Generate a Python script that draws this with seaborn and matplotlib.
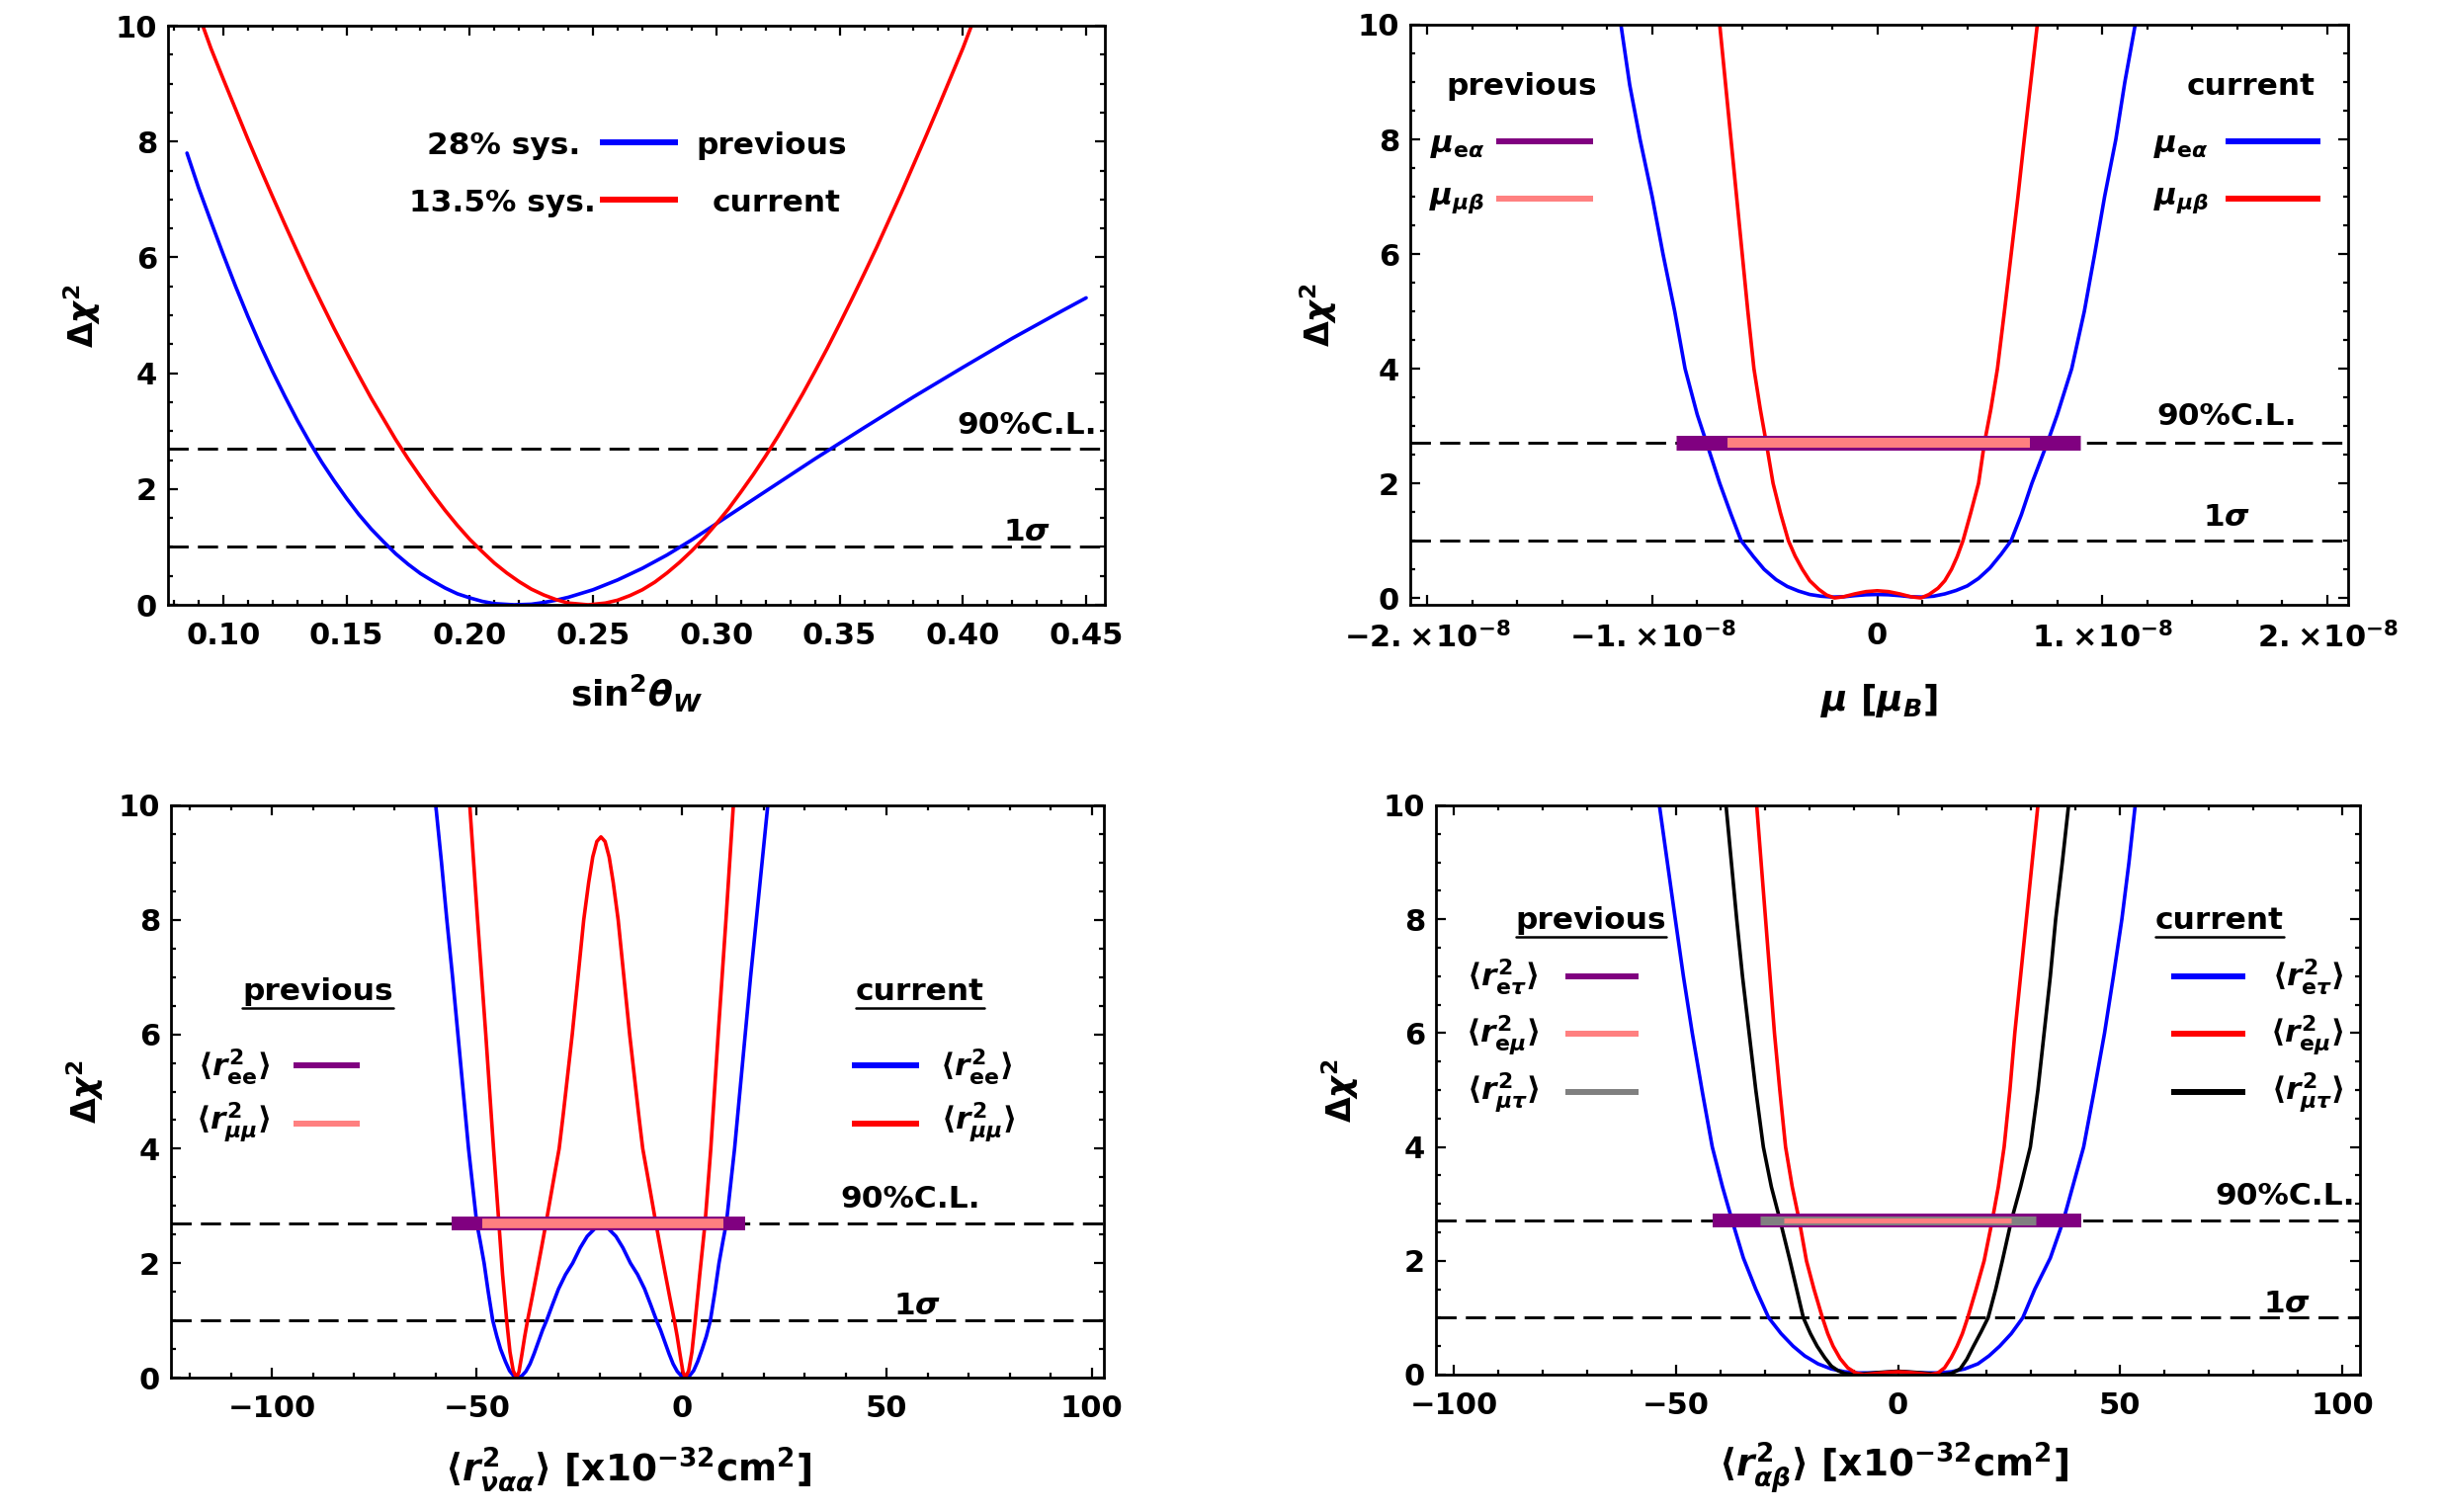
import numpy as np
import pandas as pd
import matplotlib
matplotlib.use("Agg")
import matplotlib.pyplot as plt
import seaborn as sns
from matplotlib.ticker import MultipleLocator

# ---------------- data ----------------
# Panel 1: sin^2 theta_W
sw_prev_x = [0.0853, 0.090, 0.095, 0.100, 0.105, 0.110, 0.115, 0.120, 0.125, 0.130, 0.135, 0.140,
             0.145, 0.150, 0.155, 0.160, 0.165, 0.170, 0.175, 0.180, 0.185, 0.190, 0.195, 0.200,
             0.205, 0.210, 0.218, 0.225, 0.230, 0.235, 0.240, 0.250, 0.260, 0.270, 0.280, 0.290,
             0.300, 0.310, 0.320, 0.330, 0.340, 0.350, 0.360, 0.380, 0.400, 0.420, 0.440, 0.450]
sw_prev_y = [7.80, 7.20, 6.62, 6.05, 5.50, 4.98, 4.49, 4.03, 3.60, 3.19, 2.81, 2.46,
             2.14, 1.84, 1.56, 1.31, 1.09, 0.88, 0.70, 0.54, 0.41, 0.29, 0.19, 0.12,
             0.06, 0.02, 0.0, 0.01, 0.04, 0.08, 0.13, 0.26, 0.43, 0.63, 0.86, 1.12,
             1.40, 1.68, 1.96, 2.24, 2.52, 2.79, 3.06, 3.59, 4.10, 4.60, 5.07, 5.30]
sw_curr_x = [0.0917, 0.095, 0.100, 0.105, 0.110, 0.115, 0.120, 0.125, 0.130, 0.135, 0.140, 0.145,
             0.150, 0.155, 0.160, 0.165, 0.170, 0.175, 0.180, 0.185, 0.190, 0.195, 0.200, 0.205,
             0.210, 0.215, 0.220, 0.225, 0.230, 0.235, 0.240, 0.248, 0.255, 0.260, 0.265, 0.270,
             0.275, 0.280, 0.285, 0.290, 0.295, 0.300, 0.305, 0.310, 0.315, 0.320, 0.325, 0.330,
             0.335, 0.340, 0.345, 0.350, 0.355, 0.360, 0.365, 0.370, 0.375, 0.380, 0.385, 0.390,
             0.395, 0.400, 0.4035]
sw_curr_y = [10.0, 9.61, 9.08, 8.56, 8.04, 7.54, 7.05, 6.57, 6.10, 5.64, 5.20, 4.77,
             4.36, 3.96, 3.57, 3.21, 2.85, 2.52, 2.21, 1.91, 1.63, 1.37, 1.13, 0.92,
             0.72, 0.55, 0.40, 0.27, 0.17, 0.09, 0.03, 0.0, 0.03, 0.08, 0.16, 0.26,
             0.39, 0.55, 0.73, 0.93, 1.15, 1.40, 1.66, 1.95, 2.25, 2.57, 2.91, 3.27,
             3.64, 4.03, 4.43, 4.85, 5.28, 5.72, 6.17, 6.64, 7.11, 7.60, 8.09, 8.59,
             9.10, 9.61, 10.0]

# Panel 2: magnetic moment [mu_B]
mu_ea_x = [-1.139e-8, -1.10e-8, -1.054e-8, -1.00e-8, -0.952e-8, -0.90e-8, -0.854e-8, -0.80e-8,
           -0.758e-8, -0.70e-8, -0.65e-8, -0.605e-8, -0.55e-8, -0.503e-8, -0.45e-8, -0.40e-8,
           -0.35e-8, -0.30e-8, -0.25e-8, -0.20e-8, -0.15e-8, -0.10e-8, -0.05e-8, 0.0,
           0.05e-8, 0.10e-8, 0.15e-8, 0.20e-8, 0.25e-8, 0.30e-8, 0.35e-8, 0.40e-8, 0.45e-8,
           0.50e-8, 0.55e-8, 0.595e-8, 0.64e-8, 0.687e-8, 0.755e-8, 0.80e-8, 0.864e-8, 0.92e-8,
           0.966e-8, 1.01e-8, 1.06e-8, 1.10e-8, 1.146e-8]
mu_ea_y = [10.0, 8.95, 8.0, 7.0, 6.0, 5.0, 4.0, 3.2,
           2.7, 2.0, 1.46, 1.0, 0.72, 0.5, 0.32, 0.2,
           0.12, 0.06, 0.03, 0.015, 0.02, 0.04, 0.055, 0.06,
           0.055, 0.04, 0.02, 0.015, 0.03, 0.07, 0.13, 0.21, 0.34,
           0.52, 0.76, 1.0, 1.45, 2.0, 2.7, 3.2, 4.0, 5.0,
           6.0, 7.0, 8.0, 9.0, 10.0]
mu_mb_x = [-0.70e-8, -0.675e-8, -0.65e-8, -0.625e-8, -0.60e-8, -0.575e-8, -0.548e-8, -0.52e-8,
           -0.493e-8, -0.463e-8, -0.43e-8, -0.395e-8, -0.365e-8, -0.333e-8, -0.30e-8, -0.26e-8,
           -0.225e-8, -0.19e-8, -0.15e-8, -0.10e-8, -0.05e-8, 0.0, 0.05e-8, 0.10e-8, 0.15e-8,
           0.194e-8, 0.23e-8, 0.27e-8, 0.30e-8, 0.33e-8, 0.355e-8, 0.381e-8, 0.415e-8, 0.45e-8,
           0.476e-8, 0.505e-8, 0.534e-8, 0.565e-8, 0.595e-8, 0.625e-8, 0.653e-8, 0.682e-8, 0.711e-8]
mu_mb_y = [10.0, 9.0, 8.0, 7.0, 6.0, 5.0, 4.0, 3.3,
           2.7, 2.0, 1.48, 1.0, 0.73, 0.5, 0.3, 0.15,
           0.05, 0.0, 0.02, 0.07, 0.11, 0.125, 0.11, 0.07, 0.02,
           0.0, 0.06, 0.17, 0.3, 0.5, 0.72, 1.0, 1.48, 2.0,
           2.7, 3.3, 4.0, 5.0, 6.0, 7.0, 8.0, 9.0, 10.0]
prev_mu_ea = [-0.895e-8, 0.901e-8]
prev_mu_mb = [-0.667e-8, 0.677e-8]

# Panel 3: diagonal charge radii [1e-32 cm^2]
ree_x = [-60.0, -58.6, -57.3, -55.9, -54.6, -53.3, -52.0, -51.0, -50.0, -49.2, -48.2, -47.2, -46.1,
         -45.1, -44.2, -43.0, -42.0, -41.0, -40.0, -39.0, -38.0, -37.0, -36.0, -34.95, -33.95,
         -32.95, -31.55, -30.05, -28.35, -26.6, -24.75, -23.05, -21.25, -19.55, -17.85, -16.05,
         -14.35, -12.5, -10.75, -9.05, -7.55, -6.15, -5.15, -4.15, -3.1, -2.1, -1.1, -0.1, 0.9,
         1.9, 2.9, 3.9, 5.0, 6.0, 7.0, 8.1, 9.1, 10.1, 10.9, 11.9, 12.9, 14.2, 15.5, 16.8, 18.2,
         19.6, 21.0]
ree_y = [10.0, 9.0, 8.0, 7.0, 6.0, 5.0, 4.0, 3.35, 2.7, 2.4, 2.0, 1.5, 1.0,
         0.72, 0.5, 0.28, 0.12, 0.03, 0.0, 0.03, 0.11, 0.24, 0.42, 0.63, 0.83,
         1.0, 1.27, 1.55, 1.8, 2.0, 2.27, 2.47, 2.6, 2.65, 2.6, 2.47,
         2.27, 2.0, 1.8, 1.55, 1.27, 1.0, 0.83, 0.63, 0.42, 0.24, 0.11, 0.03, 0.0,
         0.03, 0.12, 0.28, 0.5, 0.72, 1.0, 1.5, 2.0, 2.4, 2.7, 3.35, 4.0, 5.0, 6.0, 7.0, 8.0,
         9.0, 10.0]
rmm_x = [-51.7, -49.8, -47.8, -45.9, -44.6, -43.7, -42.7, -41.9, -41.1, -40.3, -39.7, -39.0, -38.3,
         -37.6, -36.5, -35.3, -34.2, -33.1, -32.0, -30.9, -29.9, -28.9, -27.8, -26.7, -25.3,
         -23.9, -22.7, -21.7, -20.7, -19.7, -18.7, -17.7, -16.7, -15.5, -14.1, -12.7, -11.6,
         -10.5, -9.5, -8.5, -7.4, -6.3, -5.2, -4.1, -2.9, -1.8, -1.1, -0.4, 0.3, 0.9,
         1.7, 2.5, 3.3, 4.4, 5.7, 7.1, 8.9, 10.8, 12.6]
rmm_y = [10.0, 8.0, 6.0, 4.0, 2.7, 1.8, 1.0, 0.45, 0.12, 0.0, 0.1, 0.4, 0.72,
         1.0, 1.4, 1.85, 2.27, 2.7, 3.15, 3.6, 4.0, 4.6, 5.3, 6.0, 7.0,
         8.0, 8.65, 9.1, 9.37, 9.45, 9.37, 9.1, 8.65, 8.0, 7.0, 6.0, 5.3,
         4.6, 4.0, 3.6, 3.15, 2.7, 2.27, 1.85, 1.4, 1.0, 0.72, 0.4, 0.1, 0.0,
         0.12, 0.45, 1.0, 1.8, 2.7, 4.0, 6.0, 8.0, 10.0]
prev_ree = [-56.1, 15.4]
prev_rmm = [-48.7, 10.2]

# Panel 4: transition charge radii [1e-32 cm^2]
ret_x = [-53.7, -52.0, -50.3, -48.3, -46.3, -44.0, -41.8, -39.5, -37.3, -34.8, -32.0, -29.1, -26.3,
         -23.6, -21.0, -18.0, -15.0, -12.0, -9.0, -6.0, -3.0, 0.0, 3.0, 6.0, 9.0, 12.0, 15.0,
         18.0, 20.5, 22.9, 25.5, 28.1, 30.8, 34.3, 37.2, 39.5, 41.8, 44.2, 46.5, 48.5, 50.4,
         52.0, 53.4]
ret_y = [10.0, 9.05, 8.1, 7.0, 6.0, 4.95, 4.0, 3.3, 2.7, 2.05, 1.5, 1.0, 0.72,
         0.5, 0.33, 0.19, 0.1, 0.05, 0.03, 0.03, 0.04, 0.05, 0.04, 0.03, 0.03, 0.05, 0.1,
         0.19, 0.33, 0.5, 0.72, 1.0, 1.5, 2.05, 2.7, 3.35, 4.0, 5.0, 6.0, 7.0, 8.0,
         9.0, 10.0]
rmt_x = [-38.7, -37.5, -36.3, -35.0, -33.5, -32.0, -30.3, -28.5, -26.5, -24.3, -22.8, -21.3, -19.7,
         -18.2, -16.5, -15.0, -13.5, -12.0, -9.8, -7.0, -4.0, 0.0, 4.0, 7.0, 10.0, 12.0, 14.0,
         15.5, 17.0, 18.7, 20.3, 22.0, 23.5, 25.5, 27.6, 29.8, 31.5, 32.9, 34.3, 35.5, 37.0, 38.4]
rmt_y = [10.0, 9.0, 8.0, 7.0, 6.0, 5.0, 4.0, 3.3, 2.7, 2.0, 1.5, 1.0, 0.72,
         0.5, 0.3, 0.15, 0.07, 0.02, 0.0, 0.02, 0.04, 0.06, 0.04, 0.02, 0.0, 0.02, 0.1,
         0.27, 0.5, 0.75, 1.0, 1.5, 2.0, 2.7, 3.3, 4.0, 5.0, 6.0, 7.0, 8.0, 9.0, 10.0]
rem_x = [-31.8, -30.8, -29.8, -28.8, -27.8, -26.6, -25.3, -23.8, -22.2, -20.6, -18.9, -17.0, -15.8,
         -14.6, -13.0, -11.3, -9.5, -7.7, -5.0, -2.5, 0.0, 2.5, 5.0, 7.4, 9.0, 10.5, 12.0, 13.3,
         14.5, 15.7, 17.6, 19.4, 21.2, 22.6, 23.9, 25.2, 26.3, 27.6, 28.9, 30.2, 31.5]
rem_y = [10.0, 9.0, 8.0, 7.0, 6.0, 5.0, 4.0, 3.3, 2.7, 2.0, 1.5, 1.0, 0.72,
         0.5, 0.28, 0.12, 0.03, 0.0, 0.02, 0.04, 0.05, 0.04, 0.02, 0.0, 0.03, 0.12, 0.3, 0.5,
         0.72, 1.0, 1.5, 2.0, 2.7, 3.3, 4.0, 5.0, 6.0, 7.0, 8.0, 9.0, 10.0]
prev_ret = [-41.7, 41.3]
prev_rmt = [-31.0, 31.0]
prev_rem = [-25.8, 25.5]

# reference levels and ticks
cl90 = 2.7
one_sigma = 1.0
y_ticks = [0, 2, 4, 6, 8, 10]
y_ticklabels = ["0", "2", "4", "6", "8", "10"]
sw_ticks = [0.10, 0.15, 0.20, 0.25, 0.30, 0.35, 0.40, 0.45]
sw_ticklabels = ["0.10", "0.15", "0.20", "0.25", "0.30", "0.35", "0.40", "0.45"]
mu_ticks = [-2e-8, -1e-8, 0.0, 1e-8, 2e-8]
mu_ticklabels = [r"$-2.\!\times\!10^{-8}$", r"$-1.\!\times\!10^{-8}$", "0",
                 r"$1.\!\times\!10^{-8}$", r"$2.\!\times\!10^{-8}$"]
r_ticks = [-100, -50, 0, 50, 100]
r_ticklabels = ["\u2212100", "\u221250", "0", "50", "100"]

# ---------------- style ----------------
sns.set_theme(style="white")
plt.rcParams["font.family"] = ["DejaVu Sans"]
plt.rcParams["font.weight"] = "bold"
plt.rcParams["axes.labelweight"] = "bold"
plt.rcParams["text.color"] = "black"
plt.rcParams["axes.labelcolor"] = "black"
plt.rcParams["xtick.color"] = "black"
plt.rcParams["ytick.color"] = "black"
plt.rcParams["xtick.labelcolor"] = "black"
plt.rcParams["ytick.labelcolor"] = "black"
plt.rcParams["mathtext.fontset"] = "custom"
plt.rcParams["mathtext.rm"] = "DejaVu Sans:bold"
plt.rcParams["mathtext.bf"] = "DejaVu Sans:bold"
plt.rcParams["mathtext.sf"] = "DejaVu Sans:bold"
plt.rcParams["mathtext.it"] = "DejaVu Sans:italic:bold"
plt.rcParams["axes.unicode_minus"] = True

BLUE = "#0000FF"
RED = "#FF0000"
PURPLE = "#800080"
PINK = "#FF8080"
GRAY = "#808080"
BLACK = "#000000"

W, H = 2471, 1530
fig = plt.figure(figsize=(W / 100, H / 100), dpi=100)
ax1 = fig.add_axes([170 / W, 1 - 612 / H, 948 / W, 586 / H])
ax2 = fig.add_axes([1427 / W, 1 - 612 / H, 949 / W, 587 / H])
ax3 = fig.add_axes([173 / W, 1 - 1394 / H, 944 / W, 579 / H])
ax4 = fig.add_axes([1453 / W, 1 - 1391 / H, 935 / W, 576 / H])

TXT = 22.5
DASH = (0, (7, 3.2))
CURVE_LW = 2.6


def style(ax, xlim, ylim, xticks, xticklabels, xminor):
    ax.set_facecolor("white")
    ax.set_xlim(xlim)
    ax.set_ylim(ylim)
    ax.set_xticks(xticks, labels=xticklabels)
    ax.xaxis.set_minor_locator(MultipleLocator(xminor))
    ax.set_yticks(y_ticks, labels=y_ticklabels)
    ax.yaxis.set_minor_locator(MultipleLocator(0.5))
    ax.tick_params(which="both", direction="in", top=True, right=True, bottom=True, left=True,
                   labeltop=False, labelright=False, color="black", labelcolor="black", width=1.6)
    ax.tick_params(which="major", length=7)
    ax.tick_params(which="minor", length=3.8)
    ax.tick_params(axis="x", which="major", pad=12, labelsize=22)
    ax.tick_params(axis="y", which="major", pad=8, labelsize=22)
    for lab in ax.get_xticklabels() + ax.get_yticklabels():
        lab.set_fontweight("bold")
    for s in ax.spines.values():
        s.set_linewidth(2.0)
        s.set_color("black")
        s.set_visible(True)
    ax.axhline(cl90, color="black", lw=2.1, ls=DASH, zorder=1)
    ax.axhline(one_sigma, color="black", lw=2.1, ls=DASH, zorder=1)
    ax.set_ylabel(r"$\Delta\chi^2$", fontsize=24, color="black")
    ax.grid(False)


def curve(ax, x, y, color):
    sns.lineplot(x=x, y=y, ax=ax, color=color, lw=CURVE_LW, estimator=None, sort=False, zorder=2)


def bar(ax, span, color, lw):
    ax.plot(span, [cl90, cl90], color=color, lw=lw, solid_capstyle="butt", zorder=4)


def sample(ax, x0, x1, y, color, lw=4.3):
    ax.plot([x0, x1], [y, y], transform=ax.transAxes, color=color, lw=lw,
            solid_capstyle="butt", clip_on=False, zorder=5)


def label(ax, x, y, s, ha="center", size=TXT):
    return ax.text(x, y, s, transform=ax.transAxes, ha=ha, va="center", fontsize=size,
                   fontweight="bold", color="black", zorder=6)


# ---------------- panel 1 ----------------
style(ax1, (0.0776, 0.4576), (0, 10), sw_ticks, sw_ticklabels, 0.01)
curve(ax1, sw_prev_x, sw_prev_y, BLUE)
curve(ax1, sw_curr_x, sw_curr_y, RED)
ax1.set_xlabel(r"$\mathrm{sin}^2\theta_W$", fontsize=26)
label(ax1, 0.44, 0.793, "28% sys.", ha="right")
sample(ax1, 0.461, 0.544, 0.799, BLUE)
label(ax1, 0.564, 0.793, "previous", ha="left")
label(ax1, 0.457, 0.693, "13.5% sys.", ha="right")
sample(ax1, 0.461, 0.544, 0.700, RED)
label(ax1, 0.581, 0.693, "current", ha="left")
label(ax1, 0.9916, 0.309, "90%C.L.", ha="right")
label(ax1, 0.917, 0.125, r"1$\sigma$")

# ---------------- panel 2 ----------------
style(ax2, (-2.075e-8, 2.092e-8), (-0.12, 10), mu_ticks, mu_ticklabels, 0.2e-8)
curve(ax2, mu_ea_x, mu_ea_y, BLUE)
curve(ax2, mu_mb_x, mu_mb_y, RED)
bar(ax2, prev_mu_ea, PURPLE, 10.8)
bar(ax2, prev_mu_mb, PINK, 7.2)
ax2.set_xlabel(r"$\mu\ [\mu_B]$", fontsize=26)
label(ax2, 0.119, 0.894, "previous")
label(ax2, 0.05, 0.792, r"$\mu_{\mathrm{e}\alpha}$")
sample(ax2, 0.092, 0.195, 0.799, PURPLE)
label(ax2, 0.05, 0.697, r"$\mu_{\mu\beta}$")
sample(ax2, 0.092, 0.195, 0.700, PINK)
label(ax2, 0.896, 0.894, "current")
label(ax2, 0.822, 0.792, r"$\mu_{\mathrm{e}\alpha}$")
sample(ax2, 0.869, 0.970, 0.799, BLUE)
label(ax2, 0.822, 0.697, r"$\mu_{\mu\beta}$")
sample(ax2, 0.869, 0.970, 0.700, RED)
label(ax2, 0.871, 0.324, "90%C.L.")
label(ax2, 0.871, 0.150, r"1$\sigma$")

# ---------------- panel 3 ----------------
style(ax3, (-124.6, 103.0), (0, 10), r_ticks, r_ticklabels, 10)
curve(ax3, ree_x, ree_y, BLUE)
curve(ax3, rmm_x, rmm_y, RED)
bar(ax3, prev_ree, PURPLE, 10.0)
bar(ax3, prev_rmm, PINK, 7.0)
ax3.set_xlabel(r"$\langle r^2_{\nu\alpha\alpha}\rangle$ [x10$^{-32}$cm$^2$]", fontsize=27)
t3p = label(ax3, 0.157, 0.674, "previous")
label(ax3, 0.067, 0.544, r"$\langle r^2_{\mathrm{ee}}\rangle$")
sample(ax3, 0.131, 0.202, 0.546, PURPLE)
label(ax3, 0.067, 0.447, r"$\langle r^2_{\mu\mu}\rangle$")
sample(ax3, 0.131, 0.202, 0.444, PINK)
t3c = label(ax3, 0.803, 0.674, "current")
sample(ax3, 0.730, 0.802, 0.546, BLUE)
label(ax3, 0.863, 0.544, r"$\langle r^2_{\mathrm{ee}}\rangle$")
sample(ax3, 0.730, 0.802, 0.444, RED)
label(ax3, 0.865, 0.447, r"$\langle r^2_{\mu\mu}\rangle$")
label(ax3, 0.793, 0.311, "90%C.L.")
label(ax3, 0.800, 0.126, r"1$\sigma$")

# ---------------- panel 4 ----------------
style(ax4, (-104, 104), (0, 10), r_ticks, r_ticklabels, 10)
curve(ax4, ret_x, ret_y, BLUE)
curve(ax4, rmt_x, rmt_y, BLACK)
curve(ax4, rem_x, rem_y, RED)
bar(ax4, prev_ret, PURPLE, 10.0)
bar(ax4, prev_rmt, GRAY, 6.5)
bar(ax4, prev_rem, PINK, 3.6)
ax4.set_xlabel(r"$\langle r^2_{\alpha\beta}\rangle$ [x10$^{-32}$cm$^2$]", fontsize=27)
t4p = label(ax4, 0.168, 0.797, "previous")
label(ax4, 0.072, 0.698, r"$\langle r^2_{\mathrm{e}\tau}\rangle$")
sample(ax4, 0.140, 0.219, 0.700, PURPLE)
label(ax4, 0.072, 0.597, r"$\langle r^2_{\mathrm{e}\mu}\rangle$")
sample(ax4, 0.140, 0.219, 0.599, PINK)
label(ax4, 0.072, 0.495, r"$\langle r^2_{\mu\tau}\rangle$")
sample(ax4, 0.140, 0.219, 0.497, GRAY)
t4c = label(ax4, 0.848, 0.797, "current")
sample(ax4, 0.796, 0.876, 0.700, BLUE)
label(ax4, 0.943, 0.698, r"$\langle r^2_{\mathrm{e}\tau}\rangle$")
sample(ax4, 0.796, 0.876, 0.599, RED)
label(ax4, 0.943, 0.597, r"$\langle r^2_{\mathrm{e}\mu}\rangle$")
sample(ax4, 0.796, 0.876, 0.497, BLACK)
label(ax4, 0.943, 0.495, r"$\langle r^2_{\mu\tau}\rangle$")
label(ax4, 0.919, 0.313, "90%C.L.")
label(ax4, 0.921, 0.125, r"1$\sigma$")

# axis label placement
ax1.yaxis.set_label_coords(-0.07, 0.5)
ax2.yaxis.set_label_coords(-0.076, 0.5)
ax3.yaxis.set_label_coords(-0.07, 0.5)
ax4.yaxis.set_label_coords(-0.081, 0.5)
ax1.xaxis.set_label_coords(0.5, -0.118)
ax2.xaxis.set_label_coords(0.5, -0.133)
ax3.xaxis.set_label_coords(0.49, -0.117)
ax4.xaxis.set_label_coords(0.495, -0.116)

# underline the headings of the lower panels
fig.canvas.draw()
renderer = fig.canvas.get_renderer()
for ax, t in [(ax3, t3p), (ax3, t3c), (ax4, t4p), (ax4, t4c)]:
    bb = t.get_window_extent(renderer)
    inv = ax.transAxes.inverted()
    (x0, y0), (x1, _) = inv.transform([(bb.x0, bb.y0 - 2), (bb.x1, bb.y1)])
    ax.plot([x0, x1], [y0, y0], transform=ax.transAxes, color="black", lw=1.8, clip_on=False)

fig.savefig("out.png", dpi=100, facecolor="white")
